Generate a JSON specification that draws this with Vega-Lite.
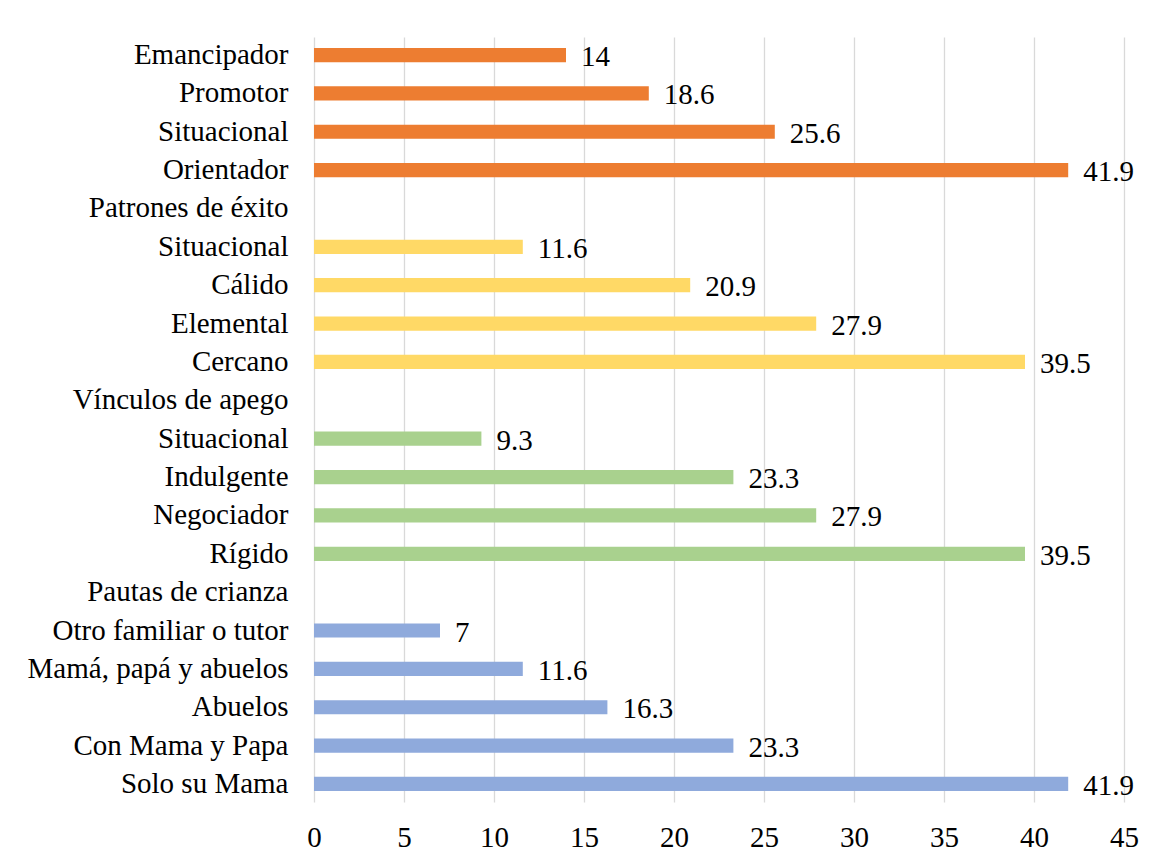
{
  "$schema": "https://vega.github.io/schema/vega-lite/v6.json",
  "autosize": {"type": "none"},
  "padding": {"left": 314, "top": 37, "right": 36, "bottom": 61},
  "width": 810,
  "height": 765,
  "background": "white",
  "data": {
    "values": [
      {"order": 1, "label": "Emancipador", "group": "Patrones de éxito", "value": 14},
      {"order": 2, "label": "Promotor", "group": "Patrones de éxito", "value": 18.6},
      {"order": 3, "label": "Situacional", "group": "Patrones de éxito", "value": 25.6},
      {"order": 4, "label": "Orientador", "group": "Patrones de éxito", "value": 41.9},
      {"order": 5, "label": "Patrones de éxito", "group": "Patrones de éxito", "value": null},
      {"order": 6, "label": "Situacional\u200b", "group": "Vínculos de apego", "value": 11.6},
      {"order": 7, "label": "Cálido", "group": "Vínculos de apego", "value": 20.9},
      {"order": 8, "label": "Elemental", "group": "Vínculos de apego", "value": 27.9},
      {"order": 9, "label": "Cercano", "group": "Vínculos de apego", "value": 39.5},
      {"order": 10, "label": "Vínculos de apego", "group": "Vínculos de apego", "value": null},
      {"order": 11, "label": "Situacional\u200b\u200b", "group": "Pautas de crianza", "value": 9.3},
      {"order": 12, "label": "Indulgente", "group": "Pautas de crianza", "value": 23.3},
      {"order": 13, "label": "Negociador", "group": "Pautas de crianza", "value": 27.9},
      {"order": 14, "label": "Rígido", "group": "Pautas de crianza", "value": 39.5},
      {"order": 15, "label": "Pautas de crianza", "group": "Pautas de crianza", "value": null},
      {"order": 16, "label": "Otro familiar o tutor", "group": "Convivencia", "value": 7},
      {"order": 17, "label": "Mamá, papá y abuelos", "group": "Convivencia", "value": 11.6},
      {"order": 18, "label": "Abuelos", "group": "Convivencia", "value": 16.3},
      {"order": 19, "label": "Con Mama y Papa", "group": "Convivencia", "value": 23.3},
      {"order": 20, "label": "Solo su Mama", "group": "Convivencia", "value": 41.9}
    ]
  },
  "encoding": {
    "y": {
      "field": "label",
      "type": "nominal",
      "sort": {"field": "order", "op": "min", "order": "ascending"},
      "scale": {"paddingInner": 0.63, "paddingOuter": 0.285},
      "axis": {
        "title": null,
        "domain": false,
        "ticks": false,
        "tickSize": 0,
        "labelPadding": 26,
        "labelFont": "'Liberation Serif', 'DejaVu Serif'",
        "labelFontSize": 29,
        "labelColor": "#000000",
        "labelLimit": 400,
        "grid": false
      }
    },
    "x": {
      "field": "value",
      "type": "quantitative",
      "scale": {"domain": [0, 45], "nice": false},
      "axis": {
        "title": null,
        "values": [0, 5, 10, 15, 20, 25, 30, 35, 40, 45],
        "domain": false,
        "ticks": false,
        "tickSize": 0,
        "labelPadding": 21,
        "labelFont": "'Liberation Serif', 'DejaVu Serif'",
        "labelFontSize": 29,
        "labelColor": "#000000",
        "labelFlush": false,
        "grid": true,
        "gridColor": "#d9d9d9",
        "gridWidth": 1.3
      }
    }
  },
  "layer": [
    {
      "mark": {"type": "bar"},
      "encoding": {
        "color": {
          "field": "group",
          "type": "nominal",
          "scale": {
            "domain": ["Patrones de éxito", "Vínculos de apego", "Pautas de crianza", "Convivencia"],
            "range": ["#ED7D31", "#FFD966", "#A9D18E", "#8FAADC"]
          },
          "legend": null
        }
      }
    },
    {
      "mark": {"type": "text", "align": "left", "baseline": "middle", "dx": 15, "dy": 2, "font": "'Liberation Serif', 'DejaVu Serif'", "fontSize": 29, "color": "#000000"},
      "encoding": {
        "text": {"field": "value", "type": "quantitative", "format": "~g"}
      }
    }
  ],
  "config": {
    "view": {"stroke": null}
  }
}
